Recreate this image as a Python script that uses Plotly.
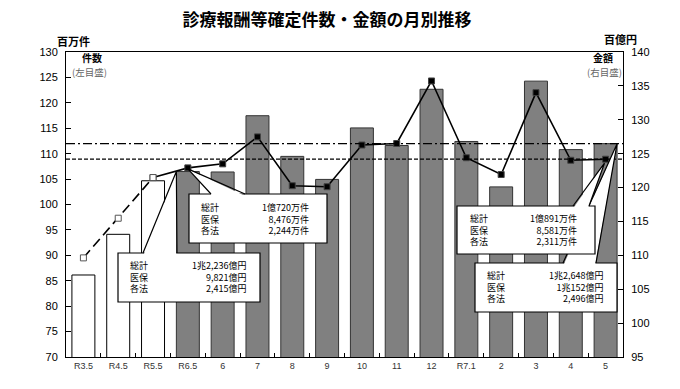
import plotly.graph_objects as go

# ---- data ----
cats = ["R3.5", "R4.5", "R5.5", "R6.5", "6", "7", "8", "9", "10", "11", "12",
        "R7.1", "2", "3", "4", "5"]
amounts = [107.1, 113.1, 121.0, 122.36, 122.3, 130.6, 124.6, 121.2, 128.8,
           126.2, 134.5, 126.8, 120.1, 135.7, 125.6, 126.48]   # 百億円 (right)
counts = [89.5, 97.3, 105.3, 107.2, 108.0, 113.3, 103.7, 103.5, 111.7,
          112.0, 124.3, 109.2, 105.9, 122.0, 108.7, 108.91]    # 百万件 (left)
left_range = [70, 130]
right_range = [95, 140]
labels = ["総計", "医保", "各法"]
box_cnt_r6 = ["1億720万件", "8,476万件", "2,244万件"]
box_amt_r6 = ["1兆2,236億円", "9,821億円", "2,415億円"]
box_cnt_r7 = ["1億891万件", "8,581万件", "2,311万件"]
box_amt_r7 = ["1兆2,648億円", "1兆152億円", "2,496億円"]

W, H = 680, 389
L, R, T, B = 66, 57, 52, 32
pw, ph = W - L - R, H - T - B
n = len(cats)
BARW = 0.66
JP = "Noto Sans CJK JP, Noto Sans, sans-serif"


def px(xp):
    return (xp - L) / pw


def py(yp):
    return 1 - (yp - T) / ph


def cx(i):
    return (i + 0.5) / n


def cy_cnt(v):
    return (v - left_range[0]) / (left_range[1] - left_range[0])


def cy_amt(v):
    return (v - right_range[0]) / (right_range[1] - right_range[0])


bar_colors = ["white"] * 3 + ["#808080"] * (n - 3)
bar_lines = ["#000000"] * 3 + ["#333333"] * (n - 3)

fig = go.Figure()
fig.add_trace(go.Bar(x=cats, y=amounts, yaxis="y",
                     marker=dict(color=bar_colors,
                                 line=dict(color=bar_lines, width=1)),
                     width=BARW, hoverinfo="x+y", showlegend=False))
fig.add_trace(go.Scatter(x=cats[2:], y=counts[2:], yaxis="y2",
                         mode="lines+markers",
                         line=dict(color="black", width=1.6),
                         marker=dict(symbol="square", size=6,
                                     color=["white"] + ["black"] * (n - 3),
                                     line=dict(color="#444", width=1)),
                         showlegend=False))
fig.add_trace(go.Scatter(x=cats[:3], y=counts[:3], yaxis="y2",
                         mode="lines+markers",
                         line=dict(color="black", width=1.6, dash="10px,5px"),
                         marker=dict(symbol="square", size=6, color="white",
                                     line=dict(color="#555", width=1)),
                         showlegend=False))

shapes = []
# reference level lines for latest month
shapes.append(dict(type="line", xref="paper", x0=0, x1=1, yref="y",
                   y0=amounts[-1], y1=amounts[-1], layer="above",
                   line=dict(color="black", width=1.3, dash="9px,3px,2px,3px")))
shapes.append(dict(type="line", xref="paper", x0=0, x1=1, yref="y2",
                   y0=counts[-1], y1=counts[-1], layer="above",
                   line=dict(color="black", width=1.3, dash="4px,2px")))


def callout(box, apex, base):
    x0, y0, x1, y1 = box
    out = [dict(type="rect", xref="paper", yref="paper",
                x0=px(x0), x1=px(x1), y0=py(y0), y1=py(y1), layer="above",
                fillcolor="white", line=dict(color="black", width=1.2))]
    ax, ay = apex
    (b1x, b1y), (b2x, b2y) = base
    fill = "M %f %f L %f %f L %f %f Z" % (px(b1x + 0.8), py(b1y + 1.5), ax, ay,
                                          px(b2x - 0.8), py(b2y + 1.5))
    out.append(dict(type="path", xref="paper", yref="paper", path=fill,
                    fillcolor="white", layer="above", line=dict(width=0)))
    edge = "M %f %f L %f %f L %f %f" % (px(b1x), py(b1y), ax, ay,
                                        px(b2x), py(b2y))
    out.append(dict(type="path", xref="paper", yref="paper", path=edge,
                    layer="above", line=dict(color="black", width=1.2)))
    return out


half = BARW / 2 / n
shapes += callout((475, 263, 617, 312), (cx(15) + half, cy_amt(amounts[15])),
                  ((563, 263), (596, 263)))
shapes += callout((457, 206, 595, 254), (cx(15) - 0.002, cy_cnt(counts[15]) - 4 / ph),
                  ((573, 206), (589, 206)))
shapes += callout((118, 253, 260, 302), (cx(3) - half, cy_amt(amounts[3])),
                  ((143, 253), (177, 253)))
shapes += callout((189, 194, 327, 243), (cx(3), cy_cnt(counts[3]) - 1 / ph),
                  ((211, 194), (245, 194)))

ann = []


def box_text(vals, lx, rx, ymid):
    ann.append(dict(xref="paper", yref="paper", x=px(lx), y=py(ymid),
                    text="<br>".join(labels), showarrow=False, xanchor="left",
                    align="left", yanchor="middle",
                    font=dict(family=JP, size=9, color="black")))
    ann.append(dict(xref="paper", yref="paper", x=px(rx), y=py(ymid),
                    text="<br>".join(vals), showarrow=False, xanchor="right",
                    align="right", yanchor="middle",
                    font=dict(family=JP, size=9, color="black")))


box_text(box_cnt_r6, 199, 311, 219)
box_text(box_amt_r6, 128, 248, 277)
box_text(box_cnt_r7, 468, 579, 230)
box_text(box_amt_r7, 485, 605, 287)


def txt(t, x, y, size=11, color="black", bold=False, xanchor="center"):
    ann.append(dict(xref="paper", yref="paper", x=px(x), y=py(y),
                    text="<b>%s</b>" % t if bold else t, showarrow=False,
                    xanchor=xanchor, yanchor="middle",
                    font=dict(family=JP, size=size, color=color)))


txt("百万件", 73, 41, bold=True)
txt("百億円", 620, 39, bold=True)
txt("件数", 92, 58, size=10, bold=True)
txt("(左目盛)", 89.5, 72, size=9.5, color="#666")
txt("金額", 603, 57.5, size=10, bold=True)
txt("(右目盛)", 604, 72, size=9.5, color="#666")

NUMF = dict(family="Liberation Sans, Arial", size=11, color="black")
fig.update_layout(
    width=W, height=H, autosize=False,
    margin=dict(l=L, r=R, t=T, b=B, pad=0),
    paper_bgcolor="white", plot_bgcolor="white",
    title=dict(text="<b>診療報酬等確定件数・金額の月別推移</b>",
               x=327 / W, xref="container", xanchor="center",
               y=1 - 20.5 / H, yref="container", yanchor="middle",
               font=dict(family=JP, size=17, color="black")),
    bargap=0.34,
    xaxis=dict(type="category", range=[-0.5, n - 0.5], autorange=False,
               showline=True, linecolor="black", linewidth=1,
               mirror=True, ticks="inside", tickson="boundaries", ticklen=4,
               tickcolor="black", showgrid=False,
               tickfont=dict(family="Liberation Sans, Arial", size=9, color="#333")),
    yaxis=dict(range=right_range, dtick=5, side="right", showline=True,
               linecolor="black", linewidth=1, ticks="inside", ticklen=5,
               tickcolor="black", showgrid=False, zeroline=False,
               ticklabelstandoff=5, tickfont=NUMF),
    yaxis2=dict(range=left_range, dtick=5, side="left", overlaying="y",
                showline=True, linecolor="black", linewidth=1, ticks="inside",
                ticklen=5, tickcolor="black", showgrid=False, zeroline=False,
                ticklabelstandoff=5, tickfont=NUMF),
    shapes=shapes, annotations=ann,
)

fig.write_html("out.html", config={"displayModeBar": False},
               post_script="document.body.style.margin='0';document.body.style.overflow='hidden';")
